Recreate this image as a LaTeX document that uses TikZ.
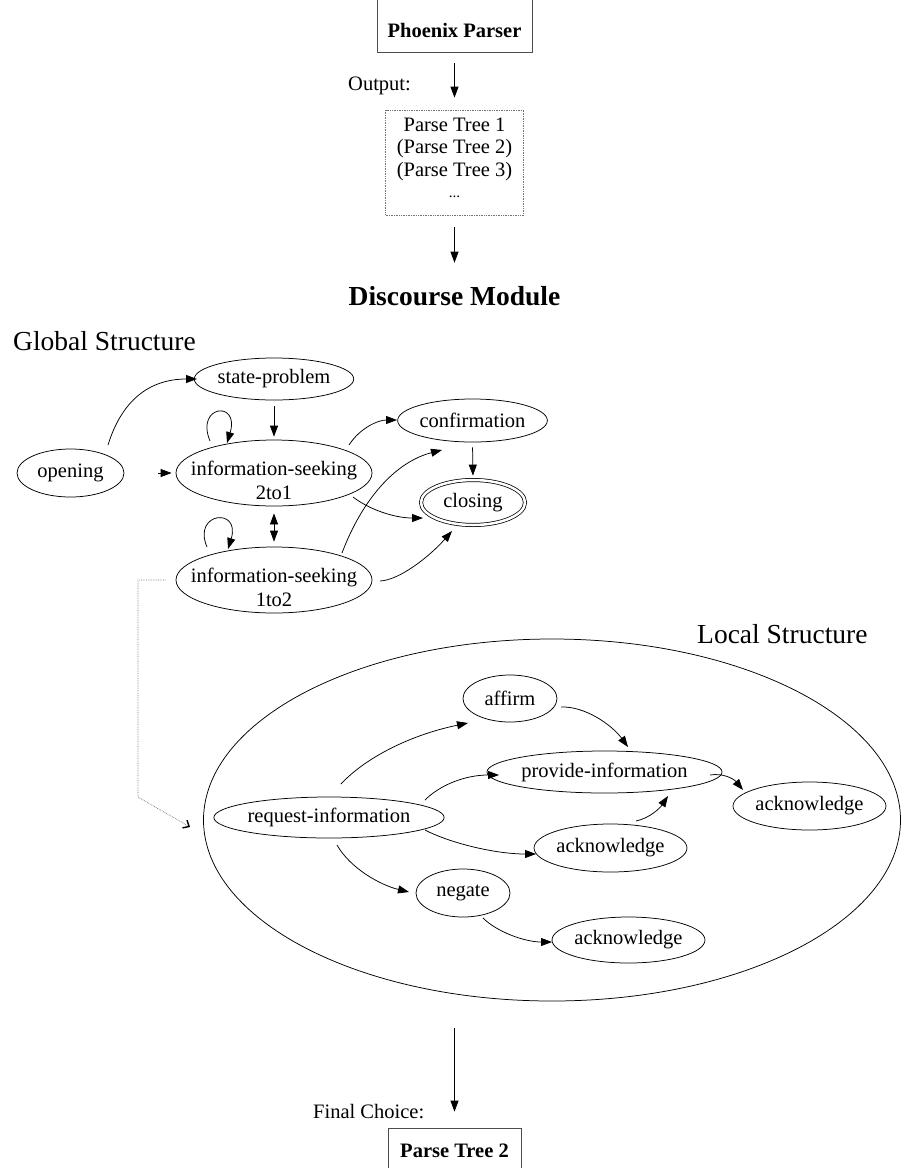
\documentclass[tikz,border=0pt]{standalone}
\usepackage{fontspec}
\setmainfont{Liberation Serif}
\usetikzlibrary{shapes.geometric,arrows.meta}
\begin{document}
\begin{tikzpicture}[x=1pt,y=-1pt,
  every node/.style={font=\fontsize{20.5}{24}\selectfont},
  st/.style={ellipse, draw, line width=0.75pt, inner sep=0pt},
  arr/.style={line width=0.75pt, -{Triangle[length=11pt,width=8pt]}},
  darr/.style={line width=0.75pt, {Triangle[length=11pt,width=8pt]}-{Triangle[length=11pt,width=8pt]}},
  title/.style={font=\fontsize{27.5}{30}\selectfont, inner sep=0pt},
  plain/.style={inner sep=0pt},
  boxnode/.style={draw=black!70, line width=0.75pt, font=\bfseries\fontsize{20.5}{24}\selectfont, anchor=base, inner sep=6pt},
  dotc/.style={densely dotted, draw=black!55, line width=0.7pt, -{Straight Barb[length=5pt,width=9pt,line width=1.4pt,black]}},
  lbl/.style={align=center, inner sep=0pt, yshift=-7pt, font=\fontsize{20.5}{24}\selectfont}
]
\useasboundingbox (0,0) rectangle (901,1168);

% top part
\node[boxnode, minimum width=155pt, text height=50pt, text depth=8.5pt] (pp) at (454.5,37.5) {Phoenix Parser};
\node[plain, anchor=base west] (out) at (348,90) {Output:};
\node[draw=black!55, densely dotted, line width=0.7pt, minimum width=138pt, minimum height=105pt, inner sep=0pt] (tb) at (454.5,162.5) {};
\node[plain, anchor=base] (t1) at (454.5,131) {Parse Tree 1};
\node[plain, anchor=base] (t2) at (454.5,153.5) {(Parse Tree 2)};
\node[plain, anchor=base] (t3) at (454.5,176) {(Parse Tree 3)};
\node[plain, anchor=base, font=\fontsize{15}{15}\selectfont, text height=2.5pt, text depth=0pt] (t4) at (454.5,197) {...};
\draw[arr, shorten <=11pt, shorten >=12pt] (pp.south) -- (tb.north);
\node[title, font=\bfseries\fontsize{27.5}{30}\selectfont, anchor=base] (dm) at (454.5,305) {Discourse Module};
\draw[arr, shorten <=12pt, shorten >=23pt] (tb.south) -- (dm.north);

% global structure
\node[title, anchor=base west] (gs) at (13,350) {Global Structure};
\node[st, minimum width=107pt, minimum height=48pt] (opening) at (70.5,473) {opening};
\node[st, minimum width=145pt, minimum height=42pt] (state) at (274,379) {state-problem};
\node[st, minimum width=196pt, minimum height=66pt, label={[lbl]center:information-seeking\\2to1}] (i21) at (274,473) {};
\node[st, minimum width=196pt, minimum height=66pt, label={[lbl]center:information-seeking\\1to2}] (i12) at (274,580) {};
\node[st, minimum width=145pt, minimum height=43pt] (conf) at (472.5,420.5) {confirmation};
\node[st, double, double distance=2.5pt, minimum width=104pt, minimum height=45pt] (closing) at (473,502.5) {closing};

\draw[arr] ([shift={(37.5,-28)}]opening.center) .. controls (125,390) and (160,379) .. ([shift={(-77,0)}]state.center);
\draw[arr, shorten <=34pt, shorten >=4pt] (opening.east) -- (i21.west);
\draw[arr, shorten <=6pt, shorten >=3pt] (state.south) -- (i21.north);
\draw[arr] ([shift={(-64,-32)}]i21.center) .. controls (195,405) and (240,400) .. ([shift={(-47,-30)}]i21.center);
\draw[arr] ([shift={(-67,-33)}]i12.center) .. controls (192,512) and (241,507) .. ([shift={(-46,-31)}]i12.center);
\draw[darr, shorten <=7pt, shorten >=5pt] (i21.south) -- (i12.north);
\draw[arr] ([shift={(75,-28)}]i21.center) .. controls (360,428) and (378,420) .. ([shift={(-75.5,-0.5)}]conf.center);
\draw[arr] ([shift={(68,-27)}]i12.center) .. controls (362,500) and (395,462) .. ([shift={(-30.5,29.5)}]conf.center);
\draw[arr] ([shift={(79,24)}]i21.center) .. controls (370,510) and (395,518) .. ([shift={(-50,15.5)}]closing.center);
\draw[arr] ([shift={(106,1)}]i12.center) .. controls (400,580) and (430,556) .. ([shift={(-21,28.5)}]closing.center);
\draw[arr, shorten <=5pt, shorten >=4pt] (conf.south) -- (closing.north);

% dotted link to local structure
\coordinate (d1) at (138,797);
\coordinate (dend) at (190,827);
\draw[dotc] ([xshift=-10pt]i12.west) -| (d1) -- (dend);

% local structure
\node[title, anchor=base west] (ls) at (697,643) {Local Structure};
\node[st, minimum width=697pt, minimum height=362pt] (local) at (552,820) {};
\node[st, minimum width=94pt, minimum height=47pt] (affirm) at (510,698.5) {affirm};
\node[st, minimum width=201pt, minimum height=42pt] (provide) at (604.5,772) {provide-information};
\node[st, minimum width=141pt, minimum height=48pt] (ackR) at (809.5,806) {acknowledge};
\node[st, minimum width=200pt, minimum height=41pt] (req) at (329,817.5) {request-information};
\node[st, minimum width=141pt, minimum height=48pt] (ackM) at (610.5,848) {acknowledge};
\node[st, minimum width=94pt, minimum height=48pt] (negate) at (463,893) {negate};
\node[st, minimum width=141pt, minimum height=46pt] (ackB) at (628.5,940) {acknowledge};

\draw[arr] ([shift={(12,-33.5)}]req.center) .. controls (365,758) and (410,735) .. ([shift={(-42,24.5)}]affirm.center);
\draw[arr] ([shift={(51,8.5)}]affirm.center) .. controls (585,706) and (612,725) .. ([shift={(23.5,-25)}]provide.center);
\draw[arr] ([shift={(96,-17.5)}]req.center) .. controls (440,785) and (465,775) .. ([shift={(-105.5,3)}]provide.center);
\draw[arr] ([shift={(96,12.5)}]req.center) .. controls (450,843) and (495,854) .. ([shift={(-74.5,6)}]ackM.center);
\draw[arr] ([shift={(25.5,-27)}]ackM.center) .. controls (650,818) and (660,808) .. ([shift={(63.5,24)}]provide.center);
\draw[arr] ([shift={(105.5,3)}]provide.center) .. controls (722,773) and (733,778) .. ([shift={(-66.5,-16)}]ackR.center);
\draw[arr] ([shift={(8,27.5)}]req.center) .. controls (350,868) and (380,885) .. ([shift={(-54,-1)}]negate.center);
\draw[arr] ([shift={(20,25)}]negate.center) .. controls (497,932) and (525,942) .. ([shift={(-76.5,2)}]ackB.center);

% bottom
\node[boxnode, minimum width=133pt, text height=23pt, text depth=30pt] (pt2) at (454.5,1157) {Parse Tree 2};
\node[plain, anchor=base west] (fc) at (313,1118) {Final Choice:};
\draw[arr, shorten <=27pt, shorten >=16pt] (local.south -| pt2.north) -- (pt2.north);
\end{tikzpicture}
\end{document}
